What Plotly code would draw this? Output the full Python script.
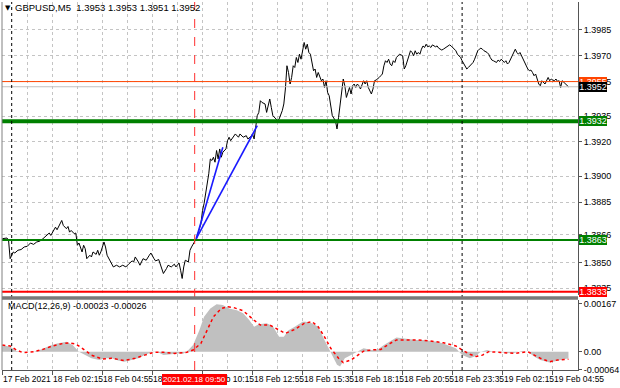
import plotly.graph_objects as go

# ---------------- data (5-minute bars, bar 0 = 17 Feb 2021 23:35) ----------------
price_bar = [0, 3, 4, 5, 7, 8, 10, 12, 14, 16, 18, 20, 22, 24, 26, 28, 30, 31, 33, 34, 35, 37, 38, 39, 41, 42, 43, 44, 46, 47,
             48, 49, 51, 52, 53, 54, 56, 57, 58, 60, 61, 62, 63, 65, 66, 67, 69, 71, 73, 75, 77, 79, 81, 83, 84, 85, 87, 88, 90, 92,
             94, 95, 97, 98, 100, 101, 103, 105, 106, 108, 110, 111, 113, 114, 115, 116, 117, 119, 120, 121, 123, 124,
             127, 128, 129, 130, 131, 132, 133, 134, 135, 136, 137, 138, 139, 140, 141, 143, 144, 145, 146, 148, 149, 151, 152, 154,
             156, 157, 159, 160, 161, 162, 163, 164, 165, 166, 168, 169, 170, 171, 172, 173, 175, 176, 177, 179, 180, 181, 182, 183,
             184, 185, 186, 187, 188, 189, 190, 191, 193, 194, 195, 196, 197, 198, 199, 200, 201, 202, 203, 204, 205, 206, 207, 208,
             209, 210, 211, 213, 214, 215, 216, 217, 218, 219, 220, 221, 222, 223, 224, 225, 226, 227, 228, 229, 230, 231, 232, 233,
             234, 236, 237, 238, 239, 240, 241, 242, 243, 244, 245, 246, 247, 248, 249, 250, 251, 252, 254, 256, 257, 258, 259, 260,
             261, 262, 263, 264, 265, 266, 267, 268, 269, 270, 271, 272, 273, 274, 275, 277, 278, 279, 280, 281, 282, 283, 284, 285,
             286, 287, 288, 289, 290, 291, 292, 293, 294, 295, 296, 297, 298, 299, 300, 301, 302, 303, 304, 305, 306, 307, 308, 310,
             311, 312, 313, 314, 315, 316, 317, 318, 319, 321, 322, 323, 324, 325, 326, 327, 328, 329, 330, 331, 332, 333, 334, 335,
             336, 337, 338, 339, 340, 341, 342, 343, 344, 345, 347, 348, 349, 350, 351, 352, 353, 354, 355, 356, 357, 358, 359, 360,
             361, 362]
price_close = [1.38638, 1.38642, 1.38628, 1.38522, 1.38561, 1.38555, 1.38571, 1.38575, 1.38590, 1.38594, 1.38613, 1.38605,
               1.38619, 1.38624, 1.38638, 1.38652, 1.38671, 1.38657, 1.38690, 1.38705, 1.38690, 1.38725, 1.38744, 1.38715,
               1.38696, 1.38709, 1.38676, 1.38686, 1.38667, 1.38671, 1.38600, 1.38613, 1.38561, 1.38600, 1.38580, 1.38522,
               1.38542, 1.38532, 1.38561, 1.38547, 1.38571, 1.38542, 1.38561, 1.38619, 1.38590, 1.38542, 1.38503, 1.38474,
               1.38484, 1.38474, 1.38484, 1.38474, 1.38493, 1.38509, 1.38503, 1.38532, 1.38503, 1.38484, 1.38522, 1.38513,
               1.38542, 1.38555, 1.38522, 1.38509, 1.38517, 1.38493, 1.38436, 1.38465, 1.38484, 1.38474, 1.38490, 1.38474,
               1.38497, 1.38455, 1.38407, 1.38474, 1.38513, 1.38503, 1.38571, 1.38590, 1.38619, 1.38638,
               1.38725, 1.38802, 1.38841, 1.38899, 1.38957, 1.39015, 1.39101, 1.39092, 1.39111, 1.39082, 1.39150, 1.39101,
               1.39159, 1.39111, 1.39140, 1.39159, 1.39207, 1.39227, 1.39207, 1.39236, 1.39246, 1.39227, 1.39246, 1.39227,
               1.39236, 1.39217, 1.39231, 1.39246, 1.39217, 1.39284, 1.39352, 1.39371, 1.39439, 1.39429, 1.39420, 1.39371,
               1.39410, 1.39449, 1.39400, 1.39352, 1.39333, 1.39323, 1.39333, 1.39381, 1.39420, 1.39507, 1.39642, 1.39603,
               1.39536, 1.39574, 1.39642, 1.39632, 1.39690, 1.39661, 1.39709, 1.39680, 1.39777, 1.39738, 1.39767, 1.39719,
               1.39709, 1.39652, 1.39613, 1.39623, 1.39574, 1.39603, 1.39574, 1.39555, 1.39565, 1.39516, 1.39555, 1.39487,
               1.39468, 1.39400, 1.39352, 1.39323, 1.39275, 1.39342, 1.39420, 1.39497, 1.39565, 1.39526, 1.39458, 1.39487,
               1.39516, 1.39478, 1.39526, 1.39536, 1.39516, 1.39536, 1.39526, 1.39507, 1.39526, 1.39555, 1.39536, 1.39555,
               1.39516, 1.39478, 1.39507, 1.39555, 1.39559, 1.39565, 1.39574, 1.39584, 1.39594, 1.39642, 1.39671, 1.39661,
               1.39680, 1.39652, 1.39642, 1.39671, 1.39661, 1.39690, 1.39709, 1.39700, 1.39623, 1.39642, 1.39671, 1.39709,
               1.39729, 1.39719, 1.39700, 1.39729, 1.39709, 1.39719, 1.39709, 1.39738, 1.39757, 1.39748, 1.39767, 1.39752,
               1.39757, 1.39748, 1.39763, 1.39752, 1.39757, 1.39744, 1.39738, 1.39733, 1.39738, 1.39744, 1.39748, 1.39757,
               1.39763, 1.39757, 1.39748, 1.39738, 1.39729, 1.39709, 1.39700, 1.39690, 1.39671, 1.39652, 1.39632, 1.39623,
               1.39632, 1.39642, 1.39652, 1.39661, 1.39680, 1.39709, 1.39729, 1.39738, 1.39744, 1.39738, 1.39729, 1.39719,
               1.39709, 1.39690, 1.39675, 1.39671, 1.39667, 1.39661, 1.39675, 1.39667, 1.39680, 1.39661, 1.39671, 1.39652,
               1.39661, 1.39680, 1.39700, 1.39719, 1.39738, 1.39719, 1.39709, 1.39719, 1.39700, 1.39671, 1.39652, 1.39642,
               1.39623, 1.39613, 1.39617, 1.39603, 1.39584, 1.39594, 1.39565, 1.39536, 1.39526, 1.39555, 1.39536, 1.39555,
               1.39574, 1.39555, 1.39565, 1.39559, 1.39555, 1.39565, 1.39551, 1.39555, 1.39516, 1.39555, 1.39545, 1.39536,
               1.39526, 1.39520]

macd_bar = [0, 5, 9, 13, 20, 24, 30, 35, 41, 45, 49, 53, 57, 62, 66, 70, 74, 78, 82, 87, 91, 95, 99, 103, 108, 112, 116, 119,
            122, 126, 129, 133, 137, 141, 145, 150, 154, 158, 161, 164, 169, 173, 177, 180, 183, 187, 192, 194, 198, 202, 206,
            210, 214, 216, 219, 223, 227, 231, 236, 240, 244, 248, 252, 257, 261, 265, 269, 273, 278, 282, 286, 290, 294, 299,
            302, 306, 310, 314, 320, 326, 332, 336, 340, 344, 350, 355, 359, 362]
macd_main = [0.00023, 0.00017, 0.00002, -0.00001, 0.0, 0.00006, 0.00020, 0.00029, 0.00035, 0.00023, 0.0, -0.00012, -0.00023,
             -0.00029, -0.00023, -0.00023, -0.00031, -0.00035, -0.00029, -0.00023, -0.00012, -0.00003, 0.0, -0.00012, -0.00009,
             -0.00006, -0.00006, 0.00006, 0.00023, 0.00075, 0.00122, 0.00151, 0.00166, 0.00163, 0.00151, 0.00145, 0.00134,
             0.00110, 0.00087, 0.00096, 0.00099, 0.00089, 0.00052, 0.00052, 0.00075, 0.00087, 0.00105, 0.00105, 0.00099,
             0.00087, 0.00041, 0.0, -0.00046, -0.00052, -0.00023, -0.00012, 0.0, 0.00012, 0.00006, 0.00008, 0.00023, 0.00038,
             0.00050, 0.00046, 0.00043, 0.00041, 0.00041, 0.00038, 0.00035, 0.00029, 0.00020, 0.00012, -0.00012, -0.00023,
             -0.00017, 0.0, 0.00006, 0.0, -0.00003, -0.00006, 0.00002, 0.0, -0.00017, -0.00029, -0.00038, -0.00031, -0.00026,
             -0.00023]

signal_bar = [0, 5, 9, 13, 20, 26, 32, 39, 43, 47, 52, 57, 64, 70, 78, 85, 91, 97, 103, 110, 118, 122, 127, 131, 135, 140,
              144, 148, 154, 161, 165, 171, 177, 181, 187, 193, 198, 202, 206, 210, 215, 218, 223, 227, 231, 236, 242, 248,
              252, 265, 273, 282, 290, 294, 299, 303, 307, 311, 320, 328, 336, 340, 344, 350, 355, 362]
signal_val = [0.00023, 0.00020, 0.00006, -0.00003, 0.0, 0.00008, 0.00020, 0.00029, 0.00031, 0.00027, 0.00008, -0.00012,
              -0.00026, -0.00023, -0.00031, -0.00023, -0.00012, -0.00002, -0.00002, -0.00006, -0.00002, 0.00006, 0.00029,
              0.00075, 0.00122, 0.00151, 0.00157, 0.00154, 0.00143, 0.00110, 0.00093, 0.00093, 0.00075, 0.00064, 0.00078,
              0.00099, 0.00105, 0.00087, 0.00052, 0.00012, -0.00023, -0.00038, -0.00029, -0.00012, 0.00002, 0.00006, 0.00008,
              0.00029, 0.00041, 0.00041, 0.00038, 0.00031, 0.00020, 0.00006, -0.00009, -0.00017, -0.00012, 0.0, -0.00003,
              -0.00006, 0.0, -0.00012, -0.00023, -0.00035, -0.00029, -0.00026]

time_tick_bar = [0, 32, 64, 96, 128, 160, 192, 224, 256, 288, 320, 352]
time_tick_label = ["17 Feb 2021", "18 Feb 02:15", "18 Feb 04:55", "18 Feb 07:35", "18 Feb 10:15", "18 Feb 12:55",
                   "18 Feb 15:35", "18 Feb 18:15", "18 Feb 20:55", "18 Feb 23:35", "19 Feb 02:15", "19 Feb 04:55"]
time_grid_minor = [16, 48, 80, 112, 144, 176, 208, 240, 272, 304, 336]
day_separator_bar = [6, 294]
signal_time_bar = 123
signal_time_label = "2021.02.18 09:50"

price_ticks = [1.3985, 1.3970, 1.3955, 1.3935, 1.3920, 1.3900, 1.3885, 1.3866, 1.3850, 1.3835]
macd_ticks = [0.00167, 0.0, -0.00064]
macd_tick_text = ["0.00167", "0.00", "-0.00064"]

level_price = [1.3955, 1.3952, 1.3932, 1.3863, 1.3833]
level_color = ["#FF4500", "#C0C0C0", "#008000", "#008000", "#FF0000"]
level_width = [1, 1, 4, 2, 2]
label_bg = ["#FF4500", "#000000", "#008000", "#008000", "#FF0000"]

trend_start = (124, 1.38638)
trend_ends = [(141, 1.39169), (163, 1.39294)]

title_text = "GBPUSD,M5&#160; 1.3953 1.3953 1.3951 1.3952"
macd_text = "MACD(12,26,9) -0.00023 -0.00026"

# ---------------- layout geometry ----------------
W, H = 620, 388
ML, MR, MT, MB = 2, 33, 1, 18
PW, PH = W - ML - MR, H - MT - MB


def py(pix):  # pixel row -> paper y
    return (H - MB - pix) / PH


def px(pix):  # pixel col -> paper x
    return (pix - ML) / PW


FONT = "Liberation Sans Narrow, Arial Narrow, Liberation Sans, Arial"
GRID = "#c4c4c4"

fig = go.Figure()

fig.add_trace(go.Scatter(x=macd_bar, y=macd_main, xaxis="x", yaxis="y2", mode="lines",
                         line=dict(width=0, color="#C0C0C0"), fill="tozeroy", fillcolor="#C0C0C0",
                         hoverinfo="skip", showlegend=False))
fig.add_trace(go.Scatter(x=signal_bar, y=signal_val, xaxis="x", yaxis="y2", mode="lines",
                         line=dict(width=1.5, color="#FF0000", dash="dot"), showlegend=False))

fig.add_trace(go.Scatter(x=price_bar, y=price_close, xaxis="x", yaxis="y", mode="lines",
                         line=dict(width=1, color="#000000"), showlegend=False))

for ex, ey in trend_ends:
    fig.add_trace(go.Scatter(x=[trend_start[0], ex], y=[trend_start[1], ey], xaxis="x", yaxis="y", mode="lines",
                             line=dict(width=1.6, color="#1a1aff"), showlegend=False))

shapes = []
for p, c, w in zip(level_price, level_color, level_width):
    shapes.append(dict(type="line", xref="paper", yref="y", x0=0, x1=1, y0=p, y1=p,
                       line=dict(color=c, width=w)))
for b in day_separator_bar:
    shapes.append(dict(type="line", xref="x", yref="paper", x0=b, x1=b, y0=0, y1=1,
                       line=dict(color="#000000", width=1, dash="dot")))
shapes.append(dict(type="line", xref="x", yref="paper", x0=signal_time_bar, x1=signal_time_bar, y0=0, y1=1,
                   line=dict(color="#FF3030", width=1, dash="dash")))
shapes.append(dict(type="rect", xref="paper", yref="paper", x0=0, x1=1, y0=py(299.5), y1=py(296),
                   fillcolor="#7a7a7a", line=dict(width=0)))
shapes.append(dict(type="line", xref="paper", yref="paper", x0=0, x1=0, y0=0, y1=1,
                   line=dict(color="#808080", width=1)))

annotations = []
annotations.append(dict(text="▼", xref="paper", yref="paper", x=px(3), y=py(7), xanchor="left", yanchor="middle",
                        showarrow=False, font=dict(family="DejaVu Sans", size=7, color="#000")))
annotations.append(dict(text=title_text, xref="paper", yref="paper", x=px(13), y=py(7), xanchor="left",
                        yanchor="middle", showarrow=False, font=dict(family=FONT, size=9.5, color="#000")))
annotations.append(dict(text=macd_text, xref="paper", yref="paper", x=px(6), y=py(305.5), xanchor="left",
                        yanchor="middle", showarrow=False, font=dict(family=FONT, size=9, color="#000")))
for b, t in zip(time_tick_bar, time_tick_label):
    annotations.append(dict(text=t, xref="x", yref="paper", x=b, y=py(379), xanchor="left", yanchor="middle",
                            showarrow=False, font=dict(family=FONT, size=8.5, color="#000"), xshift=-1))
annotations.append(dict(text=signal_time_label, xref="x", yref="paper", x=signal_time_bar, y=py(379.5),
                        xanchor="center", yanchor="middle", showarrow=False, bgcolor="#FF0000", borderpad=1,
                        borderwidth=0, font=dict(family=FONT, size=8, color="#ffffff")))
order = [0, 2, 3, 4, 1]
for i in order:
    annotations.append(dict(text=f"{level_price[i]:.4f}", xref="paper", yref="y", x=1, y=level_price[i],
                            xanchor="left", yanchor="middle", xshift=1, showarrow=False, bgcolor=label_bg[i],
                            width=28, height=10, borderpad=0, borderwidth=0,
                            font=dict(family=FONT, size=9, color="#ffffff")))

fig.update_layout(
    width=W, height=H, margin=dict(l=ML, r=MR, t=MT, b=MB),
    paper_bgcolor="#ffffff", plot_bgcolor="#ffffff",
    showlegend=False, shapes=shapes, annotations=annotations,
    xaxis=dict(domain=[0, 1], anchor="y2", range=[-0.2, 368.1], tickvals=time_tick_bar, showticklabels=False,
               ticks="outside", ticklen=4, tickcolor="#555", showgrid=True, gridcolor=GRID, griddash="dot",
               gridwidth=1, zeroline=False, showline=True, linecolor="#555", linewidth=1,
               minor=dict(tickvals=time_grid_minor, showgrid=True, gridcolor=GRID, griddash="dot", ticks="")),
    yaxis=dict(domain=[py(295), 1], anchor="x", side="right", range=[1.38310, 1.40012], tickvals=price_ticks,
               tickformat=".4f", ticks="outside", ticklen=3, tickcolor="#555", showgrid=True, gridcolor=GRID,
               griddash="dot", zeroline=False, showline=True, linecolor="#555", linewidth=1,
               tickfont=dict(family=FONT, size=9, color="#000")),
    yaxis2=dict(domain=[0, py(300)], anchor="x", side="right", range=[-0.00064, 0.0018], tickvals=macd_ticks,
                ticktext=macd_tick_text, ticks="outside", ticklen=3, tickcolor="#555", showgrid=False,
                zeroline=False, showline=True, linecolor="#555", linewidth=1,
                tickfont=dict(family=FONT, size=9, color="#000")),
)

fig.write_html("out.html", config={"displayModeBar": False},
               post_script="document.body.style.margin='0';document.body.style.overflow='hidden';")
